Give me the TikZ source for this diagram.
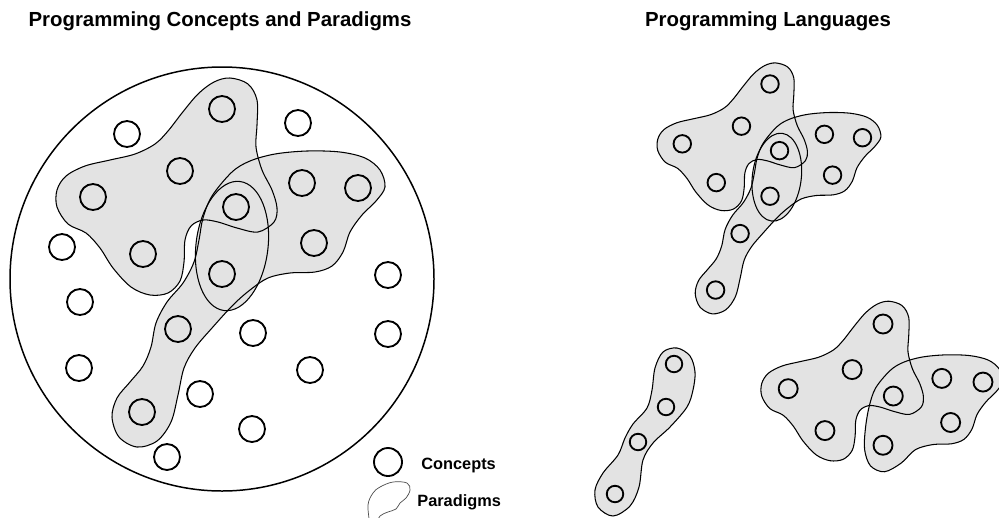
\documentclass[tikz,border=0pt]{standalone}
\usepackage{fontspec}
\setsansfont{Liberation Sans}
\usetikzlibrary{positioning}
\definecolor{paradigmgray}{gray}{0.89}
\newcommand\wingconcepts{222/109, 180/171, 93/197, 143/254, 236/207, 302/183, 358/188, 314/243, 222/274}
\newcommand\chainconcepts{178/329, 142/412}
\tikzset{
	heading/.style={font=\sffamily\bfseries\fontsize{11.6}{14}\selectfont, anchor=base},
	legendtext/.style={font=\sffamily\bfseries\fontsize{9.3}{11}\selectfont, anchor=base west, inner sep=0pt},
	concept/.style={circle, draw, line width=1.05pt, inner sep=0pt, minimum size=#1},
	concept/.default=5.2mm,
	space/.style={draw, line width=0.85pt},
	paradigm/.style={fill=paradigmgray},
	outline/.style={draw, line width=0.6pt},
	keyline/.style={draw=black!70, line width=0.4pt},
	wing/.style={insert path={plot[smooth cycle, tension=0.55] coordinates {
		(230,78) (248,84) (257,100) (257,125) (256,147) (262,170) (272,190) (277,208)
		(274,222) (258,232) (237,228) (218,222) (203,220) (191,226) (185,240) (184,262)
		(180,281) (168,293) (150,295) (131,287) (113,268) (100,248) (86,233) (68,224)
		(57,207) (57,190) (66,176) (85,166) (110,160) (135,154) (155,144) (168,131)
		(182,113) (198,94) (214,82)}}},
	hook/.style={insert path={plot[smooth cycle, tension=0.55] coordinates {
		(232,172) (250,161) (275,154) (307,151) (340,152) (365,158) (380,170) (385,187)
		(376,201) (362,215) (350,232) (343,252) (332,266) (315,272) (290,273) (268,278)
		(250,290) (233,305) (212,328) (195,348) (184,368) (178,395) (171,422) (157,441)
		(137,447) (119,437) (112,417) (117,398) (130,382) (143,366) (151,347) (156,323)
		(167,302) (183,283) (194,262) (199,240) (203,218) (212,196)}}},
	lobe/.style={insert path={plot[smooth cycle, tension=0.55] coordinates {
		(232,172) (250,161) (275,154) (307,151) (340,152) (365,158) (380,170) (385,187)
		(376,201) (362,215) (350,232) (343,252) (332,266) (315,272) (290,273) (266,280)
		(247,298) (224,310) (205,302) (197,280) (198,252) (203,222) (212,196)}}},
	oval/.style={insert path={(232,246) ellipse [x radius=36, y radius=65, rotate=-7]}},
	strand/.style={insert path={plot[smooth cycle, tension=0.55] coordinates {
		(663,352) (677,348) (690,356) (695,372) (693,390) (687,407) (670,427) (653,443)
		(643,460) (639,487) (630,506) (613,516) (598,507) (595,490) (603,473) (618,455)
		(625,438) (633,424) (647,408) (652,390) (655,368)}}},
}
\begin{document}
\begin{tikzpicture}[x=0.2mm, y=-0.2mm]
	\useasboundingbox (0,0) rectangle (999,517);
	\node[heading] (concepthead) at (220,26) {Programming Concepts and Paradigms};
	\node[heading] (languagehead) at (768,26) {Programming Languages};
	
	% concept space
	\draw[space] (222,279) circle [radius=212];
	\fill[paradigm] [wing];
	\fill[paradigm] [hook];
	\fill[paradigm] [oval];
	\draw[outline] [wing];
	\draw[outline] [hook];
	\draw[outline] [oval];
	\foreach \x/\y [count=\i] in \wingconcepts {\node[concept] (c\i) at (\x,\y) {};}
	\foreach \x/\y [count=\i] in \chainconcepts {\node[concept] (chain\i) at (\x,\y) {};}
	\foreach \x/\y [count=\i] in {127/134, 298/123, 62/247, 388/275, 80/302, 253/333,
		388/334, 79/368, 310/370, 200/394, 252/429, 167/457}
		{\node[concept] (free\i) at (\x,\y) {};}
	
	% languages
	\begin{scope}[shift={(770,84)}, scale=0.68, shift={(-222,-109)}]
		\fill[paradigm] [wing];
		\fill[paradigm] [hook];
		\fill[paradigm] [oval];
		\draw[outline] [wing];
		\draw[outline] [hook];
		\draw[outline] [oval];
		\foreach \x/\y [count=\i] in \wingconcepts {\node[concept=3.5mm] (la\i) at (\x,\y) {};}
		\foreach \x/\y [count=\i] in \chainconcepts {\node[concept=3.5mm] (lachain\i) at (\x,\y) {};}
	\end{scope}
	\begin{scope}[shift={(883,324)}, scale=0.735, shift={(-222,-109)}]
		\fill[paradigm] [wing];
		\fill[paradigm] [lobe];
		\draw[outline] [wing];
		\draw[outline] [lobe];
		\foreach \x/\y [count=\i] in \wingconcepts {\node[concept=3.8mm] (lb\i) at (\x,\y) {};}
	\end{scope}
	\fill[paradigm] [strand];
	\draw[outline] [strand];
	\foreach \x/\y [count=\i] in {674/364, 666/407, 638/442, 615/494}
		{\node[concept=3.3mm] (lc\i) at (\x,\y) {};}
	
	% legend
	\node[concept=5.6mm] (keycircle) at (388,462) {};
	\node[legendtext] (keyconcepts) at (421,469) {Concepts};
	\draw[keyline] plot[smooth, tension=0.6] coordinates {(370,525) (368,505) (373,493) (380,487)
		(393,482) (407,483) (410,490) (406,498) (400,503) (396,509) (388,512) (380,516) (376,525)};
	\node[legendtext] (keyparadigms) at (417,506) {Paradigms};
\end{tikzpicture}
\end{document}
